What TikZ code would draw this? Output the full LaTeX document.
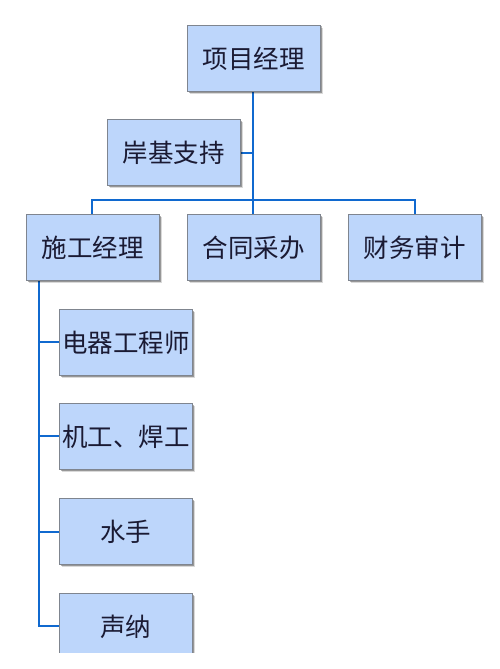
\documentclass[tikz,border=0pt]{standalone}
\usepackage{fontspec}
\setmainfont{Noto Sans CJK SC}
\definecolor{boxfill}{HTML}{BDD6FB}
\definecolor{boxline}{HTML}{7F858F}
\definecolor{linkblue}{HTML}{1069CF}
\definecolor{txt}{HTML}{1A1A33}
\tikzset{
  orgbox/.style={draw=boxline, line width=0.9pt, fill=boxfill, minimum width=133pt, minimum height=66pt,
    inner sep=0pt, text=txt, font=\fontsize{25.5}{28}\selectfont, anchor=north west},
  link/.style={draw=linkblue, line width=2.2pt}
}
\newcommand{\orgnode}[4]{%
  \fill[black,opacity=0.15] (#2+3,-#3-3) rectangle ++(133,-66);
  \fill[black,opacity=0.3] (#2+1.5,-#3-1.5) rectangle ++(133,-66);
  \node[orgbox] (#1) at (#2,-#3) {#4};
}
\begin{document}
\begin{tikzpicture}[x=1pt,y=1pt]
\useasboundingbox (0,0) rectangle (500,-669);
\fill[white] (0,0) rectangle (500,-669);
% connectors
\draw[link] (253,-91) coordinate (t0) -- (253,-214) coordinate (t1);
\draw[link] (92,-214) coordinate (l0) |- (415,-200) coordinate (r0) -- (415,-214) coordinate (r1);
\draw[link] (239,-153) coordinate (s0) -- (253,-153) coordinate (s1);
\draw[link] (39,-280) coordinate (v0) |- (59,-626) coordinate (v1);
\draw[link] (39,-342) coordinate (c1) -- (59,-342) coordinate (c1e);
\draw[link] (39,-436) coordinate (c2) -- (59,-436) coordinate (c2e);
\draw[link] (39,-532) coordinate (c3) -- (59,-532) coordinate (c3e);
% boxes
\orgnode{pm}{187}{25}{项目经理}
\orgnode{shore}{107}{119}{岸基支持}
\orgnode{cm}{26}{214}{施工经理}
\orgnode{proc}{187}{214}{合同采办}
\orgnode{fin}{348}{214}{财务审计}
\orgnode{elec}{59}{309}{电器工程师}
\orgnode{mech}{59}{403}{机工、焊工}
\orgnode{sail}{59}{498}{水手}
\begin{scope}
\clip (0,-500) rectangle (500,-652);
\orgnode{sonar}{59}{593}{声纳}
\end{scope}
\end{tikzpicture}
\end{document}
